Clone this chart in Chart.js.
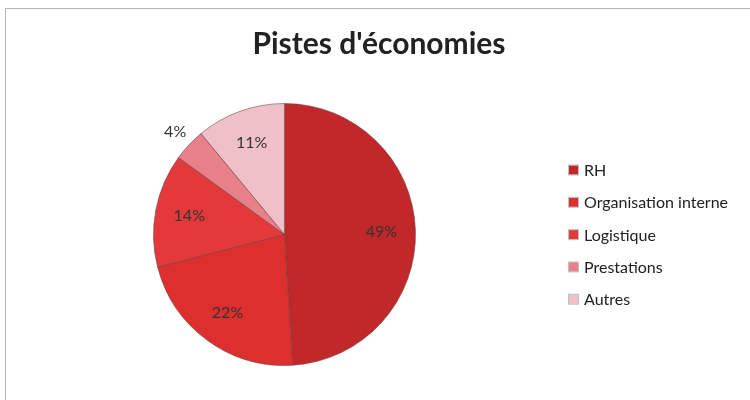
<!DOCTYPE html>
<html>
<head>
<meta charset="utf-8">
<script src="https://cdn.jsdelivr.net/npm/chart.js@4/dist/chart.umd.min.js"></script>
<style>
  html, body { margin: 0; padding: 0; background: #fff; }
  #wrap { width: 750px; height: 400px; position: relative; }
</style>
</head>
<body>
<div id="wrap"><canvas id="c" width="750" height="400"></canvas></div>
<script>
const title = "Pistes d'économies";
const categories = ["RH", "Organisation interne", "Logistique", "Prestations", "Autres"];
const values = [49, 22, 14, 4, 11];
const colors = ["#c0282a", "#dc2f2e", "#e4393a", "#e8808a", "#efc0c8"];

const FONT = "Lato, 'Open Sans', sans-serif";

const decor = {
  id: 'decor',
  beforeDraw(chart) {
    const ctx = chart.ctx;
    ctx.save();
    ctx.strokeStyle = '#b4b4b4';
    ctx.lineWidth = 1;
    ctx.strokeRect(5.5, 8.5, 760, 400);
    ctx.restore();
  },
  afterDraw(chart) {
    const ctx = chart.ctx;
    ctx.save();
    // title
    ctx.fillStyle = '#222';
    ctx.font = "bold 30px " + FONT;
    ctx.textAlign = 'center';
    ctx.textBaseline = 'middle';
    ctx.fillText(title, 379, 44);

    // labels
    const meta = chart.getDatasetMeta(0);
    const total = values.reduce((a, b) => a + b, 0);
    ctx.font = "16px " + FONT;
    ctx.fillStyle = '#333';
    meta.data.forEach((arc, i) => {
      const p = arc.getProps(['x', 'y', 'startAngle', 'endAngle', 'outerRadius'], true);
      const mid = (p.startAngle + p.endAngle) / 2;
      const pct = Math.round(values[i] / total * 100);
      const r = pct < 5 ? p.outerRadius + 19 : p.outerRadius * 0.74;
      ctx.fillText(pct + '%', p.x + Math.cos(mid) * r, p.y + Math.sin(mid) * r);
    });

    // legend
    ctx.textAlign = 'left';
    ctx.font = "16px " + FONT;
    categories.forEach((name, i) => {
      const y = 170 + i * 32.3;
      ctx.fillStyle = colors[i];
      ctx.fillRect(569, y - 4.5, 9, 9);
      ctx.strokeStyle = 'rgba(150,150,150,0.6)';
      ctx.lineWidth = 1;
      ctx.strokeRect(568.5, y - 5, 10, 10);
      ctx.fillStyle = '#222';
      ctx.fillText(name, 584, y + 1);
    });
    ctx.restore();
  }
};

new Chart(document.getElementById('c'), {
  type: 'pie',
  data: {
    labels: categories,
    datasets: [{
      data: values,
      backgroundColor: colors,
      borderColor: 'rgba(110,60,60,0.55)',
      borderWidth: 1
    }]
  },
  options: {
    responsive: false,
    animation: false,
    layout: { padding: { left: 153, top: 103, right: 334, bottom: 34 } },
    plugins: {
      legend: { display: false },
      tooltip: { enabled: false },
      title: { display: false }
    }
  },
  plugins: [decor]
});
</script>
</body>
</html>
